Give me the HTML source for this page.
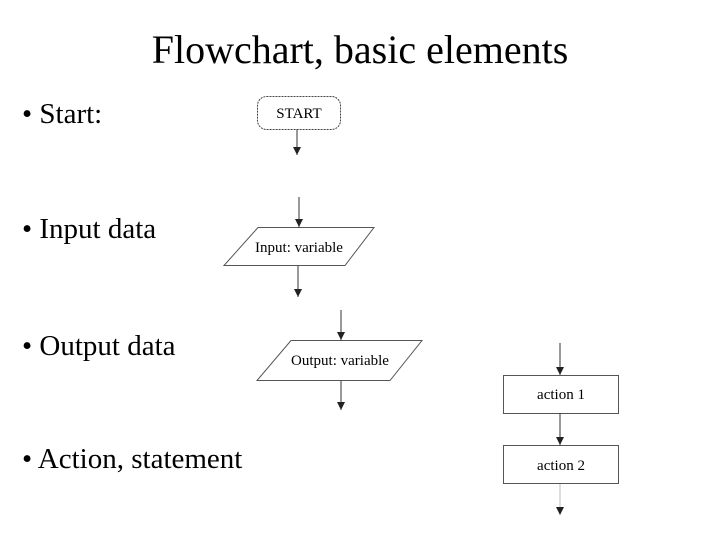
<!DOCTYPE html>
<html><head><style>
body{margin:0;width:720px;height:540px;background:#fff;overflow:hidden;font-family:"Liberation Serif",serif;}
.t{position:absolute;white-space:nowrap;color:#000;}
</style></head><body>
<div class="t" style="left:0;width:720px;text-align:center;top:26px;font-size:40px;">Flowchart, basic elements</div>
<div class="t" style="left:22px;top:98px;font-size:29px;">• Start:</div>
<div class="t" style="left:22px;top:213px;font-size:29px;">• Input data</div>
<div class="t" style="left:22px;top:330px;font-size:29px;">• Output data</div>
<div class="t" style="left:22px;top:443px;font-size:29px;">• Action, statement</div>
<svg width="720" height="540" style="position:absolute;left:0;top:0" font-family="Liberation Serif, serif">
<defs><marker id="a" markerWidth="8" markerHeight="8" refX="8" refY="4" orient="auto" markerUnits="userSpaceOnUse"><path d="M0,0 L8,4 L0,8 Z" fill="#222"/></marker></defs>
<rect x="257.5" y="96.5" width="83" height="33" rx="9" fill="none" stroke="#444" stroke-dasharray="2,1"/>
<text x="299" y="118" font-size="15" text-anchor="middle">START</text>
<line x1="297" y1="129" x2="297" y2="155" stroke="#333" marker-end="url(#a)"/>
<line x1="299" y1="197" x2="299" y2="227" stroke="#333" marker-end="url(#a)"/>
<polygon points="258,227.5 374,227.5 345,265.5 224,265.5" fill="none" stroke="#555"/>
<text x="299" y="252" font-size="15" text-anchor="middle">Input: variable</text>
<line x1="298" y1="266" x2="298" y2="297" stroke="#333" marker-end="url(#a)"/>
<line x1="341" y1="310" x2="341" y2="340" stroke="#333" marker-end="url(#a)"/>
<polygon points="291,340.5 422,340.5 390,380.5 257,380.5" fill="none" stroke="#555"/>
<text x="340" y="365" font-size="15" text-anchor="middle">Output: variable</text>
<line x1="341" y1="381" x2="341" y2="410" stroke="#333" marker-end="url(#a)"/>
<line x1="560" y1="343" x2="560" y2="375" stroke="#333" marker-end="url(#a)"/>
<rect x="503.5" y="375.5" width="115" height="38" fill="none" stroke="#555"/>
<text x="561" y="399" font-size="15" text-anchor="middle">action 1</text>
<line x1="560" y1="413" x2="560" y2="445" stroke="#333" marker-end="url(#a)"/>
<rect x="503.5" y="445.5" width="115" height="38" fill="none" stroke="#555"/>
<text x="561" y="470" font-size="15" text-anchor="middle">action 2</text>
<line x1="560" y1="484" x2="560" y2="515" stroke="#bbb" marker-end="url(#a)"/>
</svg>
</body></html>
